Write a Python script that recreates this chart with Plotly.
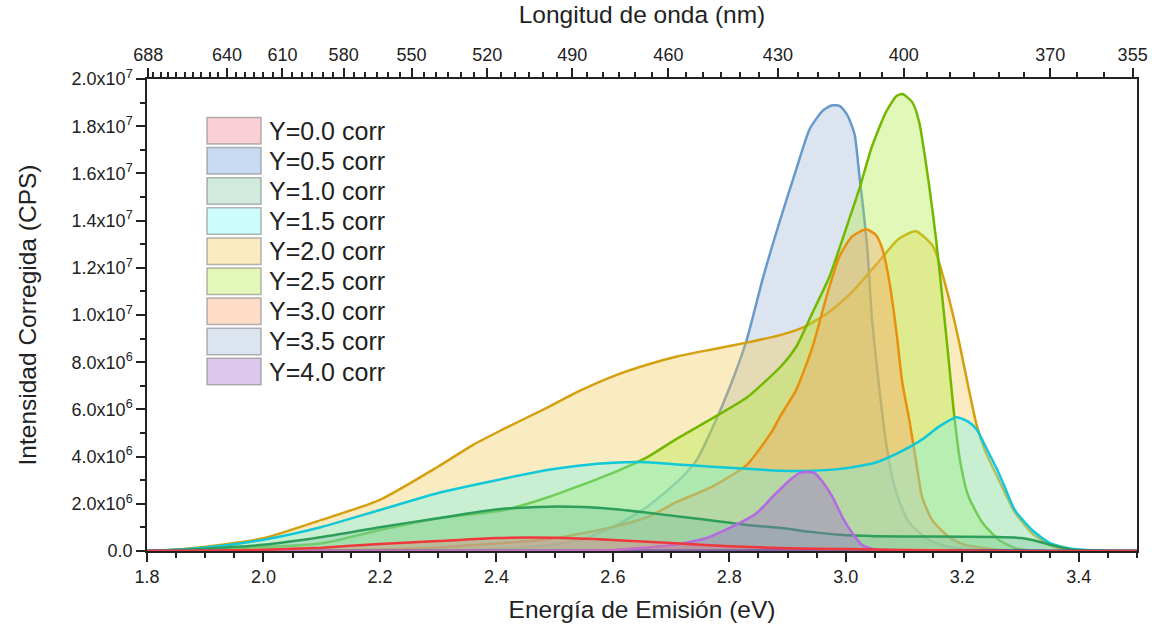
import plotly.graph_objects as go

# ---------------- data (intensity in units of 1e6 CPS, energy in eV) ----------------
labels = ["Y=0.0 corr", "Y=0.5 corr", "Y=1.0 corr", "Y=1.5 corr", "Y=2.0 corr",
          "Y=2.5 corr", "Y=3.0 corr", "Y=3.5 corr", "Y=4.0 corr"]

e_y00 = [1.80, 1.90, 2.00, 2.10, 2.20, 2.30, 2.40, 2.50, 2.60, 2.70, 2.80, 2.90, 3.00, 3.10, 3.20, 3.30, 3.50]
i_y00 = [0.00, 0.01, 0.05, 0.14, 0.30, 0.42, 0.55, 0.56, 0.47, 0.34, 0.20, 0.12, 0.08, 0.04, 0.02, 0.00, 0.00]

e_y05 = [1.80, 2.20, 2.60, 2.90, 3.10, 3.25, 3.35, 3.50]
i_y05 = [0.00, 0.01, 0.02, 0.03, 0.03, 0.03, 0.01, 0.00]

e_y10 = [1.80, 1.84, 1.90, 2.00, 2.10, 2.20, 2.30, 2.40, 2.49, 2.55, 2.60, 2.66, 2.72, 2.78, 2.83,
         2.89, 2.94, 2.99, 3.05, 3.15, 3.26, 3.30, 3.32, 3.35, 3.39, 3.45, 3.50]
i_y10 = [0.00, 0.03, 0.10, 0.26, 0.59, 1.01, 1.39, 1.76, 1.88, 1.86, 1.78, 1.62, 1.44, 1.26, 1.10,
         0.97, 0.81, 0.69, 0.63, 0.61, 0.59, 0.55, 0.47, 0.27, 0.05, 0.01, 0.00]

e_y15 = [1.80, 1.84, 1.90, 2.00, 2.10, 2.20, 2.30, 2.40, 2.49, 2.54, 2.60, 2.66, 2.71, 2.77, 2.83,
         2.89, 2.93, 2.99, 3.05, 3.09, 3.13, 3.16, 3.19, 3.21, 3.225, 3.24, 3.26, 3.275, 3.29, 3.32,
         3.35, 3.38, 3.42, 3.50]
i_y15 = [0.00, 0.04, 0.15, 0.48, 1.02, 1.74, 2.46, 3.00, 3.44, 3.61, 3.74, 3.76, 3.67, 3.57, 3.48,
         3.40, 3.39, 3.48, 3.74, 4.16, 4.71, 5.27, 5.67, 5.48, 5.14, 4.42, 3.44, 2.59, 1.74, 0.89,
         0.34, 0.13, 0.03, 0.00]

e_y20 = [1.80, 1.85, 1.90, 2.00, 2.10, 2.20, 2.30, 2.36, 2.41, 2.49, 2.54, 2.60, 2.66, 2.71, 2.77,
         2.83, 2.89, 2.93, 2.97, 3.01, 3.06, 3.09, 3.12, 3.15, 3.175, 3.195, 3.21, 3.225, 3.24, 3.263,
         3.29, 3.32, 3.35, 3.38, 3.42, 3.50]
i_y20 = [0.00, 0.05, 0.18, 0.54, 1.32, 2.17, 3.58, 4.50, 5.14, 6.11, 6.75, 7.40, 7.90, 8.24, 8.54,
         8.83, 9.17, 9.51, 10.11, 10.96, 12.36, 13.21, 13.55, 12.90, 10.90, 8.80, 7.00, 5.30, 4.20, 3.00,
         1.65, 0.75, 0.25, 0.05, 0.01, 0.00]

e_y25 = [1.80, 1.84, 1.95, 2.10, 2.20, 2.30, 2.41, 2.49, 2.60, 2.66, 2.71, 2.77, 2.83, 2.89, 2.915,
         2.943, 2.972, 3.00, 3.023, 3.045, 3.069, 3.087, 3.097, 3.114, 3.126, 3.143, 3.155, 3.165, 3.175,
         3.185, 3.195, 3.21, 3.235, 3.263, 3.29, 3.33, 3.50]
i_y25 = [0.00, 0.04, 0.12, 0.33, 0.89, 1.39, 1.72, 2.29, 3.31, 3.99, 4.76, 5.61, 6.50, 7.86, 8.66,
         10.11, 11.63, 13.63, 15.33, 17.15, 18.60, 19.28, 19.36, 19.02, 18.17, 15.50, 13.20, 10.90, 8.50,
         6.00, 4.00, 2.35, 1.19, 0.47, 0.13, 0.00, 0.00]

e_y30 = [1.80, 2.10, 2.20, 2.30, 2.40, 2.49, 2.60, 2.66, 2.71, 2.77, 2.83, 2.874, 2.886, 2.915, 2.943,
         2.967, 2.989, 3.011, 3.035, 3.052, 3.063, 3.075, 3.087, 3.097, 3.109, 3.121, 3.131, 3.148, 3.177,
         3.206, 3.24, 3.28, 3.50]
i_y30 = [0.00, 0.02, 0.05, 0.15, 0.32, 0.50, 1.02, 1.44, 2.08, 2.72, 3.65, 5.10, 5.65, 6.84, 8.66,
         10.79, 12.48, 13.33, 13.63, 13.38, 12.78, 11.38, 9.26, 7.13, 5.56, 3.74, 2.29, 1.32, 0.59,
         0.25, 0.12, 0.00, 0.00]

e_y35 = [1.80, 2.30, 2.40, 2.47, 2.544, 2.601, 2.659, 2.714, 2.744, 2.772, 2.801, 2.830, 2.857, 2.886,
         2.915, 2.938, 2.960, 2.975, 2.990, 3.003, 3.015, 3.023, 3.030, 3.037, 3.045, 3.057, 3.069, 3.080,
         3.092, 3.109, 3.138, 3.165, 3.206, 3.26, 3.50]
i_y35 = [0.00, 0.02, 0.08, 0.20, 0.47, 1.02, 1.87, 3.01, 3.86, 5.27, 6.96, 8.96, 11.51, 13.93,
         16.18, 17.88, 18.65, 18.88, 18.85, 18.45, 17.66, 15.97, 14.48, 12.78, 9.81, 7.00, 4.60, 3.10,
         2.10, 1.20, 0.55, 0.25, 0.08, 0.00, 0.00]

e_y40 = [1.80, 2.40, 2.51, 2.601, 2.647, 2.703, 2.761, 2.818, 2.847, 2.874, 2.904, 2.921, 2.934, 2.946,
         2.960, 2.977, 2.994, 3.011, 3.028, 3.045, 3.075, 3.50]
i_y40 = [0.00, 0.00, 0.01, 0.04, 0.13, 0.25, 0.55, 1.19, 1.61, 2.29, 3.01, 3.31, 3.35, 3.31,
         2.93, 2.29, 1.44, 0.76, 0.25, 0.10, 0.00, 0.00]

energies = [e_y00, e_y05, e_y10, e_y15, e_y20, e_y25, e_y30, e_y35, e_y40]
intensities = [i_y00, i_y05, i_y10, i_y15, i_y20, i_y25, i_y30, i_y35, i_y40]

# top axis wavelength labels (nm)
wl_major = [688, 640, 610, 580, 550, 520, 490, 460, 430, 400, 370, 355]
wl_minor = list(range(355, 690, 5))

y_ticks = [0, 2e6, 4e6, 6e6, 8e6, 1e7, 1.2e7, 1.4e7, 1.6e7, 1.8e7, 2e7]
y_ticktext = ["0.0", "2.0x10<sup>6</sup>", "4.0x10<sup>6</sup>", "6.0x10<sup>6</sup>",
              "8.0x10<sup>6</sup>", "1.0x10<sup>7</sup>", "1.2x10<sup>7</sup>",
              "1.4x10<sup>7</sup>", "1.6x10<sup>7</sup>", "1.8x10<sup>7</sup>", "2.0x10<sup>7</sup>"]

# ---------------- styles ----------------
line_colors = ["#F0373C", "#2050B0", "#2E9E5B", "#10C8D8", "#D4A010",
               "#72B800", "#E8900C", "#6699CC", "#B36AE2"]
legend_fill = [(248, 208, 213), (201, 218, 243), (208, 235, 221), (204, 252, 252), (251, 235, 192),
               (226, 248, 184), (253, 220, 200), (220, 229, 239), (221, 200, 238)]
ALPHA = 0.35
draw_order = [7, 4, 5, 6, 3, 2, 1, 8, 0]

HC = 1239.84
FONT = "Liberation Sans, Arial, sans-serif"
TXT = "#222222"


def fill_rgba(rgb):
    base = [max(0, min(255, round(255 - (255 - c) / ALPHA))) for c in rgb]
    return f"rgba({base[0]},{base[1]},{base[2]},{ALPHA})"


fig = go.Figure()
for n, k in enumerate(draw_order):
    fig.add_trace(go.Scatter(
        x=energies[k], y=[v * 1e6 for v in intensities[k]],
        mode="lines", name=labels[k], showlegend=False,
        xaxis="x2" if n == len(draw_order) - 1 else "x",
        line=dict(color=line_colors[k], width=2.5, shape="spline", smoothing=0.6),
        fill="tozeroy", fillcolor=fill_rgba(legend_fill[k]),
    ))

# ---------------- layout (page pixel geometry; body margin removed below) ----------------
W, H = 1152, 626
L, R, T, B = 147, 1137, 79, 551   # plot area in page pixels


def px_x(px):
    return (px - L) / (R - L)


def px_y(py):
    return (B - py) / (B - T)


shapes = []
annotations = []
for i, lab in enumerate(labels):
    top = 117.5 + 30.1 * i
    bot = top + 26.5
    r, g, b = legend_fill[i]
    shapes.append(dict(type="rect", xref="paper", yref="paper",
                       x0=px_x(207), x1=px_x(261), y0=px_y(bot), y1=px_y(top),
                       fillcolor=f"rgb({r},{g},{b})",
                       line=dict(color="rgba(120,120,120,0.55)", width=1.5),
                       layer="above"))
    annotations.append(dict(xref="paper", yref="paper", x=px_x(267), y=px_y((top + bot) / 2),
                            xanchor="left", yanchor="middle", showarrow=False, text=lab,
                            font=dict(family=FONT, size=25, color=TXT)))

axis_common = dict(showline=True, linecolor="#222222", linewidth=1.5, showgrid=False,
                   zeroline=False, ticks="outside", tickcolor="#222222", tickwidth=1.5,
                   automargin=False,
                   tickfont=dict(family=FONT, size=18, color=TXT))
minor_common = dict(ticks="outside", ticklen=5, tickcolor="#222222", tickwidth=1.5)

fig.update_layout(
    width=W, height=H,
    margin=dict(l=L, r=W - R, t=T, b=H - B),
    plot_bgcolor="white", paper_bgcolor="white",
    showlegend=False,
    xaxis=dict(range=[1.8, 3.5], tick0=1.8, dtick=0.2, tickformat=".1f", ticklen=9,
               minor=dict(dtick=0.05, tick0=1.8, **minor_common),
               title=dict(text="Energía de Emisión (eV)", standoff=15,
                          font=dict(family=FONT, size=24.5, color=TXT)),
               **axis_common),
    xaxis2=dict(range=[1.8, 3.5], overlaying="x", side="top", anchor="y",
                tickmode="array", tickvals=[HC / w for w in wl_major],
                ticktext=[str(w) for w in wl_major], ticklen=9,
                minor=dict(tickmode="array", tickvals=[HC / w for w in wl_minor], **minor_common),
                title=dict(text="Longitud de onda (nm)", standoff=14,
                           font=dict(family=FONT, size=24.5, color=TXT)),
                **axis_common),
    yaxis=dict(range=[0, 2e7], tickmode="array", tickvals=y_ticks, ticktext=y_ticktext,
               ticklen=9, mirror=True,
               minor=dict(dtick=1e6, **minor_common),
               title=dict(text="Intensidad Corregida (CPS)", standoff=28,
                          font=dict(family=FONT, size=24.5, color=TXT)),
               **axis_common),
    shapes=shapes,
    annotations=annotations,
)

fig.write_html("out.html",
               config={"displayModeBar": False},
               post_script="document.body.style.margin='0px';document.body.style.overflow='hidden';")
